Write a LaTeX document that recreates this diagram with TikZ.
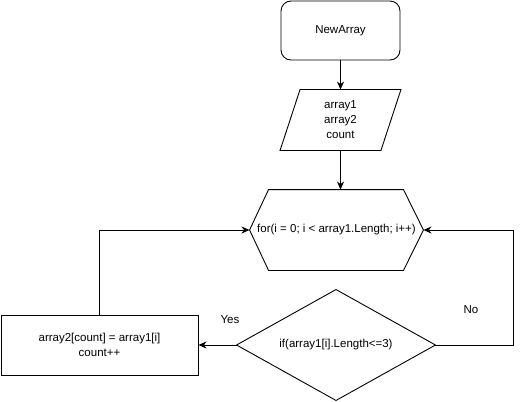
\documentclass[tikz,border=0pt]{standalone}
\usepackage{fontspec}
\setmainfont{Liberation Sans}
\usetikzlibrary{calc,arrows.meta}
\begin{document}
\begin{tikzpicture}[x=1pt,y=-1pt,line width=0.9pt,font=\fontsize{11.5}{15}\selectfont]
\tikzset{
  shp/.style={draw=none,inner sep=0pt,align=center},
  boxed/.style={draw,inner sep=0pt,align=center},
  arr/.style={-{Stealth[length=8pt,width=7pt,inset=2.5pt]}},
  lbl/.style={inner sep=0pt}
}
\useasboundingbox (0,0) rectangle (529,401);
\node[boxed,rounded corners=10pt,minimum width=119pt,minimum height=59pt] (start) at (340.5,30.5) {NewArray};
\node[shp,minimum width=120pt,minimum height=60pt] (inp) at (340.5,120) {array1\\array2\\count};
\draw (inp.south west) -- ($(inp.north west)+(20,0)$) -- (inp.north east) -- ($(inp.south east)-(20,0)$) -- cycle;
\node[shp,minimum width=173pt,minimum height=80pt] (hex) at (336.5,230) {for(i = 0; i {\char"3C} array1.Length; i++)};
\draw (hex.west) -- ($(hex.north west)+(19,0)$) -- ($(hex.north east)-(20,0)$) -- (hex.east) -- ($(hex.south east)-(20,0)$) -- ($(hex.south west)+(19,0)$) -- cycle;
\node[shp,minimum width=198pt,minimum height=110pt] (dec) at (336,345) {if(array1[i].Length{\char"3C}=3)};
\draw (dec.west) -- (dec.north) -- (dec.east) -- (dec.south) -- cycle;
\node[boxed,minimum width=197pt,minimum height=60pt] (act) at (99.5,345) {array2[count] = array1[i]\\count++};
\node[lbl] (yes) at (230,320) {Yes};
\node[lbl] (no) at (471,310) {No};
\draw[arr] (start.south) -- (inp.north);
\draw[arr] (inp.south) -- (inp.south |- hex.north);
\draw[arr] (act.north) |- (hex.west);
\draw[arr] (dec.west) -- (act.east);
\draw[arr] (dec.east) -- ++(78,0) |- (hex.east);
\end{tikzpicture}
\end{document}
